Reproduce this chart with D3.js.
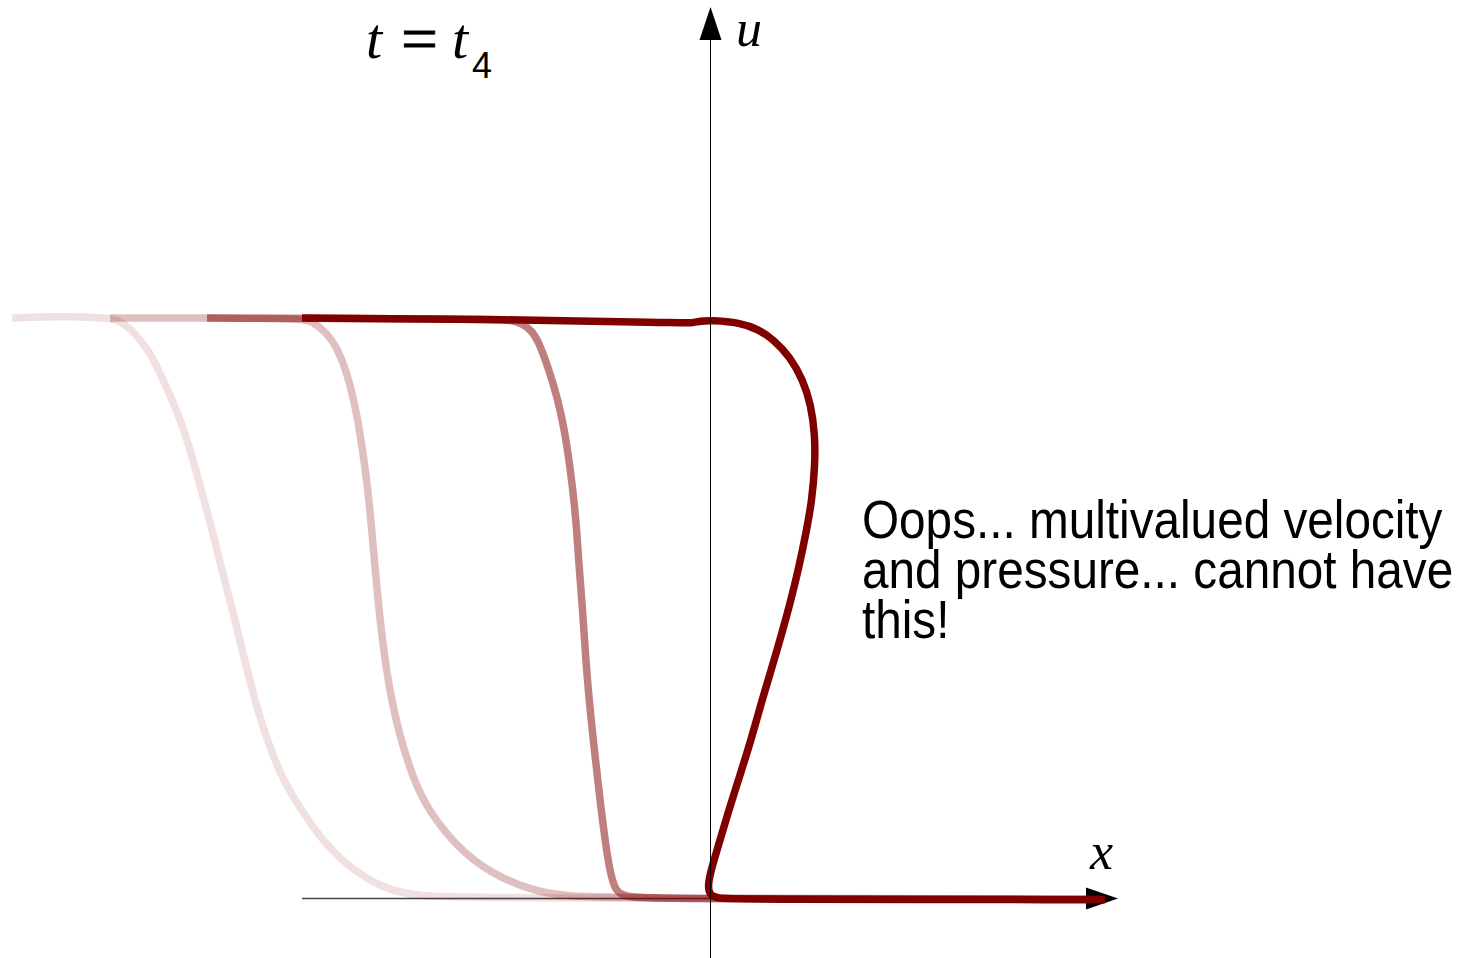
<!DOCTYPE html>
<html>
<head>
<meta charset="utf-8">
<script src="https://cdn.jsdelivr.net/npm/d3@7"></script>
<style>
  html, body { margin: 0; padding: 0; background: #fff; }
  svg { display: block; }
</style>
</head>
<body>
<svg id="chart" width="1467" height="958"></svg>
<script>
// Velocity profiles u(x) at successive times t1..t4 (wave steepening into a multivalued profile)
const profileT1 = [
  [-6.98, 1.000], [-6.50, 1.003], [-6.00, 1.000], [-5.93, 0.997], [-5.80, 0.983],
  [-5.70, 0.962], [-5.60, 0.940], [-5.53, 0.916], [-5.45, 0.886], [-5.38, 0.859],
  [-5.31, 0.829], [-5.25, 0.802], [-5.15, 0.743], [-5.06, 0.686], [-4.97, 0.629],
  [-4.89, 0.571], [-4.80, 0.514], [-4.69, 0.436], [-4.52, 0.319], [-4.40, 0.259],
  [-4.27, 0.203], [-4.07, 0.147], [-3.83, 0.088], [-3.53, 0.043], [-3.23, 0.014],
  [-2.90, 0.003], [-2.40, 0.000], [3.95, -0.002]
];
const profileT2 = [
  [-6.00, 1.000], [-4.10, 1.000], [-3.98, 0.995], [-3.83, 0.974], [-3.73, 0.948],
  [-3.65, 0.916], [-3.56, 0.859], [-3.50, 0.802], [-3.45, 0.743], [-3.41, 0.686],
  [-3.38, 0.629], [-3.35, 0.571], [-3.32, 0.514], [-3.27, 0.433], [-3.17, 0.319],
  [-2.97, 0.203], [-2.80, 0.147], [-2.53, 0.088], [-2.20, 0.043], [-1.80, 0.014],
  [-1.47, 0.003], [-0.90, 0.000], [3.95, -0.002]
];
const profileT3 = [
  [-5.03, 1.000], [-2.30, 0.998], [-2.00, 0.997], [-1.88, 0.991], [-1.79, 0.979],
  [-1.72, 0.962], [-1.62, 0.916], [-1.52, 0.859], [-1.45, 0.802], [-1.40, 0.743],
  [-1.36, 0.686], [-1.33, 0.629], [-1.31, 0.571], [-1.28, 0.514], [-1.23, 0.376],
  [-1.16, 0.260], [-1.10, 0.169], [-1.05, 0.100], [-1.00, 0.045], [-0.95, 0.014],
  [-0.87, 0.002], [-0.50, -0.002], [3.95, -0.002]
];
const profileT4 = [
  [-4.08, 1.000], [-2.30, 0.998], [-0.30, 0.992], [-0.18, 0.991], [-0.10, 0.995],
  [0.02, 0.996], [0.30, 0.992], [0.48, 0.981], [0.64, 0.962], [0.80, 0.933],
  [0.93, 0.893], [1.01, 0.850], [1.05, 0.798], [1.05, 0.747], [1.02, 0.686],
  [0.96, 0.629], [0.89, 0.571], [0.81, 0.514], [0.72, 0.457], [0.62, 0.398],
  [0.52, 0.341], [0.41, 0.272], [0.30, 0.212], [0.18, 0.147], [0.08, 0.088],
  [0.01, 0.048], [-0.02, 0.022], [-0.01, 0.007], [0.06, -0.001], [0.30, -0.002],
  [3.95, -0.003]
];
const profiles = [profileT1, profileT2, profileT3, profileT4];
const profileOpacity = [0.12, 0.25, 0.5, 1];

// Axis extents in data units
const xAxisExtent = [-4.08, 4.08];
const uAxisExtent = [-0.11, 1.536];

const annotationLines = ["Oops... multivalued velocity", "and pressure... cannot have", "this!"];

const W = 1467, H = 958;
const svg = d3.select("#chart");

const x = d3.scaleLinear().domain([-7.1, 7.57]).range([0, W]);
const y = d3.scaleLinear().domain([0, 1]).range([898, 318]);

const curveColor = "#800000";

// horizontal axis line
svg.append("line")
  .attr("x1", x(xAxisExtent[0])).attr("x2", x(xAxisExtent[1]) - 30)
  .attr("y1", y(0) + 0.5).attr("y2", y(0) + 0.5)
  .attr("stroke", "#444").attr("stroke-width", 1.3);

// x-axis arrowhead
const xTip = x(xAxisExtent[1]), y0 = y(0) + 0.5;
svg.append("path")
  .attr("d", `M${xTip},${y0} L${xTip - 32},${y0 - 11} L${xTip - 32},${y0 + 11} Z`)
  .attr("fill", "#000");

// profiles
const line = d3.line()
  .x(d => x(d[0]))
  .y(d => y(d[1]))
  .curve(d3.curveBasis);

svg.append("g").selectAll("path")
  .data(profiles)
  .join("path")
  .attr("d", line)
  .attr("fill", "none")
  .attr("stroke", curveColor)
  .attr("stroke-opacity", (d, i) => profileOpacity[i])
  .attr("stroke-width", 7.5)
  .attr("stroke-linejoin", "round")
  .attr("stroke-linecap", "butt");

// vertical axis line and arrowhead
const x0 = x(0) + 0.5;
const uTip = y(uAxisExtent[1]);
svg.append("line")
  .attr("x1", x0).attr("x2", x0)
  .attr("y1", y(uAxisExtent[0])).attr("y2", uTip + 30)
  .attr("stroke", "#000").attr("stroke-width", 1);
svg.append("path")
  .attr("d", `M${x0},${uTip} L${x0 - 11},${uTip + 33} L${x0 + 11},${uTip + 33} Z`)
  .attr("fill", "#000");

// axis labels
svg.append("text")
  .attr("x", 736).attr("y", 46)
  .attr("font-family", "Liberation Serif, Times New Roman, serif")
  .attr("font-style", "italic").attr("font-size", 52)
  .text("u");
svg.append("text")
  .attr("x", 1090).attr("y", 869)
  .attr("font-family", "Liberation Serif, Times New Roman, serif")
  .attr("font-style", "italic").attr("font-size", 52)
  .text("x");

// title t = t_4
const title = svg.append("g")
  .attr("font-family", "Liberation Serif, Times New Roman, serif")
  .attr("fill", "#000");
title.append("text").attr("x", 366).attr("y", 58)
  .attr("font-style", "italic").attr("font-size", 58).text("t");
title.append("text").attr("x", 401).attr("y", 60)
  .attr("font-size", 64)
  .attr("stroke", "#000").attr("stroke-width", 0.8)
  .attr("textLength", 37).attr("lengthAdjust", "spacingAndGlyphs")
  .text("=");
title.append("text").attr("x", 452).attr("y", 58)
  .attr("font-style", "italic").attr("font-size", 58).text("t");
title.append("text").attr("x", 472).attr("y", 78)
  .attr("font-family", "Liberation Sans, Arial, sans-serif")
  .attr("font-size", 36).text("4");

// annotation, one text block with three lines
const note = svg.append("g")
  .attr("transform", "translate(862,538) scale(0.9,1)")
  .attr("font-family", "Liberation Sans, Arial, sans-serif")
  .attr("font-size", 53)
  .attr("fill", "#000");
note.append("text")
  .selectAll("tspan")
  .data(annotationLines)
  .join("tspan")
  .attr("x", 0)
  .attr("y", (d, i) => i * 50)
  .text(d => d);
</script>
</body>
</html>
